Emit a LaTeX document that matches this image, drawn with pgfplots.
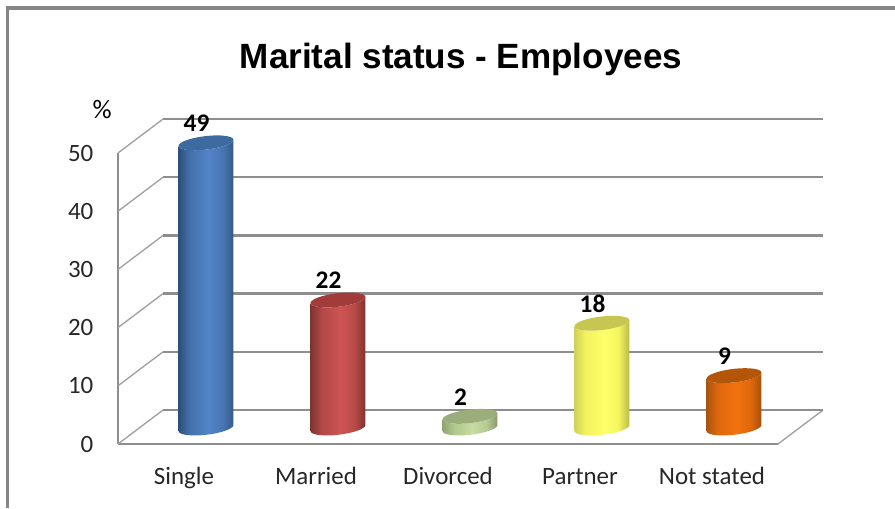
\documentclass[border=0pt]{standalone}
\usepackage{pgfplots}
\pgfplotsset{compat=1.18}
\usepackage{fontspec}
\setmainfont{Carlito}
\newfontfamily\titlefont{Liberation Sans}
\definecolor{framegray}{HTML}{858585}
\definecolor{gridgray}{HTML}{8E8E8E}
\definecolor{diaggray}{HTML}{A0A0A0}
\definecolor{capblue}{HTML}{3D6A9F}
\definecolor{capred}{HTML}{A23C3A}
\definecolor{capgreen}{HTML}{9AAD7A}
\definecolor{capyellow}{HTML}{C6C650}
\definecolor{caporange}{HTML}{B45607}
\definecolor{ba}{RGB}{44,80,125}\definecolor{bb}{RGB}{66,112,170}\definecolor{bc}{RGB}{83,132,200}\definecolor{bd}{RGB}{72,118,180}\definecolor{be}{RGB}{52,90,135}
\definecolor{ra}{RGB}{125,52,50}\definecolor{rb}{RGB}{178,72,70}\definecolor{rc}{RGB}{205,84,84}\definecolor{rd}{RGB}{185,74,72}\definecolor{re}{RGB}{125,52,50}
\definecolor{ga}{RGB}{145,165,115}\definecolor{gb}{RGB}{175,198,140}\definecolor{gc}{RGB}{198,220,160}\definecolor{gd}{RGB}{180,202,145}\definecolor{ge}{RGB}{135,153,105}
\definecolor{ya}{RGB}{210,210,88}\definecolor{yb}{RGB}{242,242,95}\definecolor{yc}{RGB}{255,255,105}\definecolor{yd}{RGB}{245,245,95}\definecolor{ye}{RGB}{185,185,72}
\definecolor{oa}{RGB}{170,83,15}\definecolor{ob}{RGB}{222,104,14}\definecolor{oc}{RGB}{243,114,14}\definecolor{od}{RGB}{222,104,12}\definecolor{oe}{RGB}{165,80,12}
\newcommand\cylshading[6]{\pgfdeclarehorizontalshading{#1}{100bp}{color(0bp)=(#2);color(25bp)=(#2);color(35bp)=(#3);color(52bp)=(#4);color(65bp)=(#5);color(75bp)=(#6);color(100bp)=(#6)}}
\cylshading{cylblue}{ba}{bb}{bc}{bd}{be}
\cylshading{cylred}{ra}{rb}{rc}{rd}{re}
\cylshading{cylgreen}{ga}{gb}{gc}{gd}{ge}
\cylshading{cylyellow}{ya}{yb}{yc}{yd}{ye}
\cylshading{cylorange}{oa}{ob}{oc}{od}{oe}
\pgfdeclareplotmark{nothing}{}
% one bar: a sheared cylinder hung from the data point
\newcommand\cyldraw[2]{%
  \pgfmathsetlengthmacro\cylH{\rawv*5.82*0.75pt}%
  \begin{scope}
    \pgftransformcm{1}{0.11}{0}{1}{\pgfpoint{16.5pt}{12pt}}%
    \path[draw=none,shading=#1] (-20.6pt,-\cylH) arc[start angle=180,end angle=360,x radius=20.6pt,y radius=5.1pt]
      -- (20.6pt,0pt) arc[start angle=0,end angle=-180,x radius=20.6pt,y radius=5.1pt] -- cycle;
    \path[draw=none,fill=#2] (0,0) ellipse[x radius=20.6pt,y radius=5.1pt];
  \end{scope}%
}
\pgfplotsset{
  cyl/.style 2 args={
    scatter, only marks, mark=nothing,
    visualization depends on={rawy \as \rawv},
    scatter/@pre marker code/.code={\cyldraw{#1}{#2}},
    scatter/@post marker code/.code={},
    nodes near coords*,
    nodes near coords align={anchor=center},
    every node near coord/.style={font=\fontsize{19}{21}\selectfont\bfseries,text=black,xshift=9.4pt,yshift=26.5pt,inner sep=0pt},
  },
  grid3d/.style={no marks,draw=gridgray,line width=1.7pt},
  diag/.style={no marks,draw=diaggray,line width=1pt},
}
\begin{document}
\begin{tikzpicture}
\useasboundingbox (0,0) rectangle (671.25pt,-381pt);
\draw[framegray,line width=2.4pt] (5.6pt,-381pt) -- (5.6pt,-6pt) -- (671.25pt,-6pt);
\begin{axis}[
  at={(88.5pt,-333pt)}, anchor=south west,
  scale only axis, width=495pt, height=218.25pt,
  xmin=0, xmax=5, ymin=0, ymax=50,
  clip=false,
  axis x line=bottom, axis y line=left,
  axis line style={-,draw=gridgray,line width=2pt},
  tick style={draw=none}, major tick length=0pt,
  xtick={0.5,1.5,2.5,3.5,4.5},
  xticklabels={Single,Married,Divorced,Partner,Not stated},
  ytick={0,10,20,30,40,50},
  /pgf/number format/assume math mode=true,
  ticklabel style={font=\fontsize{18.7}{20}\selectfont,text=black!85},
  xticklabel style={anchor=base,yshift=-30pt},
  yticklabel style={xshift=-15pt},
  title={\titlefont\bfseries Marital status - Employees},
  title style={font=\fontsize{26.3}{30}\selectfont,at={(0.5,1)},anchor=center,xshift=9.75pt,yshift=64pt},
]
\addplot[diag] coordinates {(0,0) (0.341,5.84)};
\addplot[diag] coordinates {(0,10) (0.341,15.84)};
\addplot[diag] coordinates {(0,20) (0.341,25.84)};
\addplot[diag] coordinates {(0,30) (0.341,35.84)};
\addplot[diag] coordinates {(0,40) (0.341,45.84)};
\addplot[diag] coordinates {(0,50) (0.341,55.84)};
\addplot[diag] coordinates {(5,0) (5.341,5.84)};
\addplot[grid3d,line width=1.3pt] coordinates {(0.341,5.84) (5.341,5.84)};
\addplot[grid3d,line width=1.2pt] coordinates {(0.341,15.84) (5.341,15.84)};
\addplot[grid3d] coordinates {(0.341,25.84) (5.341,25.84)};
\addplot[grid3d] coordinates {(0.341,35.84) (5.341,35.84)};
\addplot[grid3d,line width=1.2pt] coordinates {(0.341,45.84) (5.341,45.84)};
\addplot[grid3d,line width=2.2pt] coordinates {(0.341,55.84) (5.341,55.84)};
\addplot[cyl={cylblue}{capblue}] coordinates {(0.5,49)};
\addplot[cyl={cylred}{capred}] coordinates {(1.5,22)};
\addplot[cyl={cylgreen}{capgreen}] coordinates {(2.5,2)};
\addplot[cyl={cylyellow}{capyellow}] coordinates {(3.5,18)};
\addplot[cyl={cylorange}{caporange}] coordinates {(4.5,9)};
\node[font=\fontsize{20}{22}\selectfont,text=black] at (axis cs:-0.12,57.5) {\%};
\end{axis}
\end{tikzpicture}
\end{document}
